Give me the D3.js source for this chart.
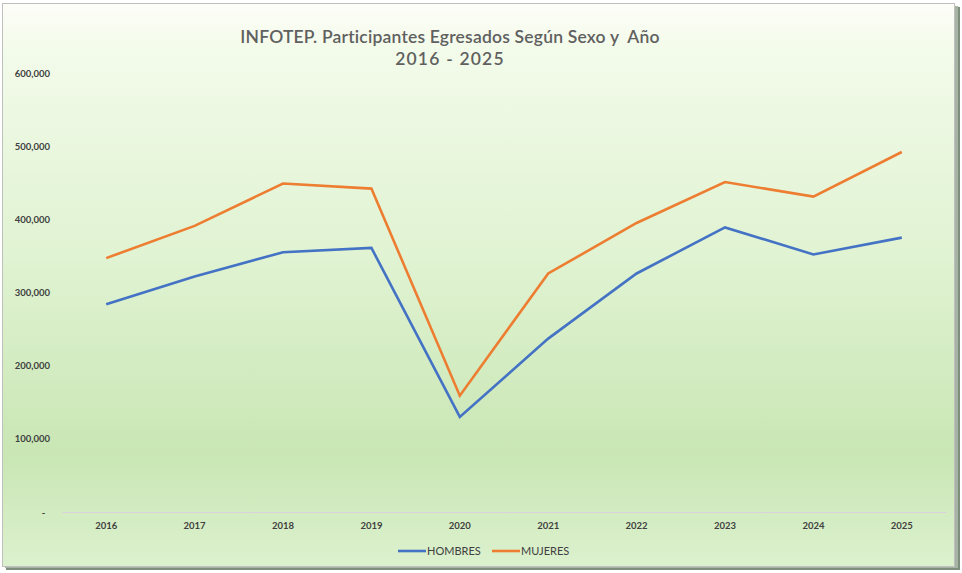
<!DOCTYPE html>
<html><head><meta charset="utf-8">
<script src="https://cdn.jsdelivr.net/npm/d3@7"></script>
<style>html,body{margin:0;padding:0;background:#fff;}svg{display:block;}</style>
</head><body>
<script>
const years = ["2016","2017","2018","2019","2020","2021","2022","2023","2024","2025"];
const hombres = [284000, 322000, 355000, 361000, 130000, 237000, 326000, 389000, 352000, 375000];
const mujeres = [347000, 391000, 449000, 442000, 159000, 326000, 395000, 451000, 431000, 492000];
const yTicks = [0, 100000, 200000, 300000, 400000, 500000, 600000];
const seriesNames = ["HOMBRES", "MUJERES"];
const seriesColors = ["#4472C4", "#ED7D31"];
const titleLines = ["INFOTEP. Participantes Egresados Según Sexo y  Año", "2016 - 2025"];

const W = 962, H = 573;
const svg = d3.select("body").append("svg").attr("width", W).attr("height", H);
const defs = svg.append("defs");
const grad = defs.append("linearGradient").attr("id","bg").attr("x1",0).attr("y1",0).attr("x2",0).attr("y2",1);
[[0,"#fdfdf8"],[0.08,"#f3fbea"],[0.45,"#e0f3d2"],[0.8,"#c9e6b4"],[1,"#dcf1ce"]].forEach(s=>grad.append("stop").attr("offset",s[0]).attr("stop-color",s[1]));

// shadow
svg.append("rect").attr("x",6).attr("y",7).attr("width",954).attr("height",563).attr("fill","#7f8f7d");
svg.append("rect").attr("x",5).attr("y",6).attr("width",953).attr("height",562).attr("fill","#a7b4a5");
// chart area
svg.append("rect").attr("x",2.5).attr("y",3.5).attr("width",952).attr("height",563).attr("fill","url(#bg)").attr("stroke","#bfbfbf").attr("stroke-width",1);

const x = d3.scaleBand().domain(years).range([62, 946]);
const y = d3.scaleLinear().domain([0, 600000]).range([512, 73]);

const font = "Lato, 'Open Sans', sans-serif";

// title
svg.append("g").selectAll("text").data(titleLines).join("text")
  .attr("x", 450).attr("y", (d,i)=> 43 + i*22)
  .attr("text-anchor","middle").attr("font-family",font).attr("font-size",17.5)
  .attr("font-weight", 600)
  .attr("letter-spacing", (d,i)=> i===0 ? 0.2 : 1.2)
  .style("white-space","pre")
  .attr("fill","#606060").text(d=>d);

// y axis labels
const yAxis = d3.axisLeft(y).tickValues(yTicks).tickSize(0).tickPadding(0)
  .tickFormat(d => d === 0 ? "-  " : d3.format(",")(d));
const gy = svg.append("g").attr("transform","translate(50,0)").call(yAxis);
gy.select(".domain").remove();
gy.selectAll("text").attr("font-family",font).attr("font-size",9.5).attr("font-weight","bold").attr("fill","#404040").style("white-space","pre");

// x axis
const xAxis = d3.axisBottom(x).tickSize(0).tickPadding(10);
const gx = svg.append("g").attr("transform","translate(0,512)").call(xAxis);
gx.select(".domain").attr("stroke","#d9d2dd").attr("stroke-width",1.2);
gx.selectAll("text").attr("font-family",font).attr("font-size",9.5).attr("font-weight","bold").attr("fill","#404040");

// lines
const line = d3.line().x((d,i)=> x(years[i]) + x.bandwidth()/2).y(d=>y(d));
[hombres, mujeres].forEach((vals, k) => {
  svg.append("path").datum(vals).attr("d", line).attr("fill","none")
    .attr("stroke", seriesColors[k]).attr("stroke-width",2.6).attr("stroke-linejoin","miter");
});

// legend
const legX = [398, 492];
const leg = svg.append("g");
seriesNames.forEach((n,k)=>{
  leg.append("line").attr("x1",legX[k]).attr("x2",legX[k]+28).attr("y1",551).attr("y2",551)
    .attr("stroke",seriesColors[k]).attr("stroke-width",2.6);
  leg.append("text").attr("x",legX[k]+29).attr("y",555).attr("font-family",font).attr("font-size",11)
    .attr("fill","#404040").text(n);
});
</script>
</body></html>
